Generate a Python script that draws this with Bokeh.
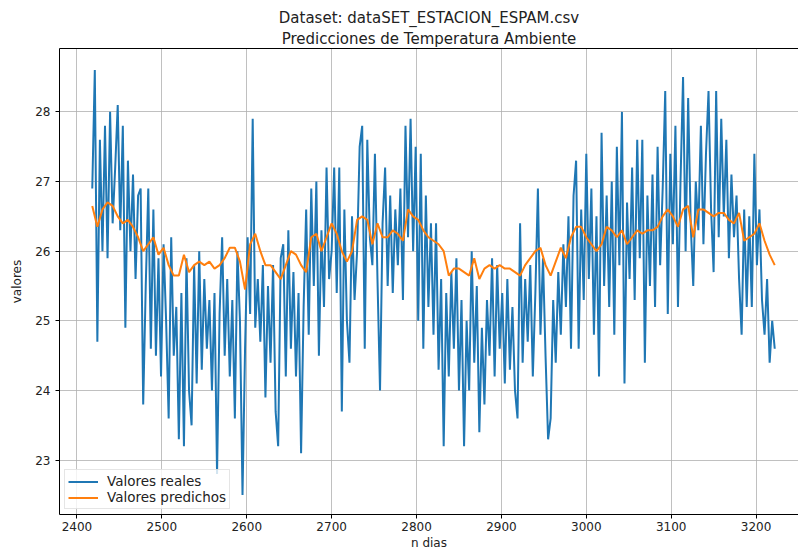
from bokeh.plotting import figure
from bokeh.models import Range1d, FixedTicker, Title, Legend, LegendItem, LinearAxis
from bokeh.embed import file_html
from bokeh.resources import INLINE

# ---- data ----
REAL_START = 2418
REAL_STEP = 3
valores_reales = [
    26.9, 28.6, 24.7, 27.6, 26.0, 27.8, 25.9, 28.0, 26.4, 27.2, 28.1,
    26.3, 27.8, 24.9, 27.3, 26.0, 27.1, 25.6, 26.8, 26.9, 23.8, 25.5, 26.9, 24.6, 26.6, 24.5, 25.9, 24.2,
    26.1, 25.0, 23.6, 26.2, 24.5, 25.2, 23.3, 25.4, 23.2, 25.9, 24.0, 23.5, 25.8, 24.1, 26.0, 24.3, 25.6,
    24.6, 25.3, 24.0, 25.4, 22.8, 25.1, 26.2, 24.5, 25.6, 24.2, 25.3, 23.6, 26.0, 25.0, 22.5, 24.6, 26.2,
    25.1, 27.9, 24.9, 25.6, 24.7, 25.8, 23.9, 25.5, 24.4, 25.8, 23.7, 23.2, 25.9, 26.1, 24.2, 26.3, 24.6,
    25.7, 24.2, 25.4, 23.1, 25.2, 26.6, 24.8, 26.9, 25.5, 27.0, 24.5, 26.3, 25.2, 27.2, 25.6, 26.0, 27.2,
    25.4, 27.2, 23.7, 26.6, 25.0, 24.4, 26.5, 25.3, 26.0, 27.5, 27.8, 24.6, 27.6, 26.2, 25.8, 27.4, 25.6,
    24.0, 26.4, 27.2, 25.5, 26.8, 25.4, 26.6, 25.8, 26.9, 25.3, 27.8, 26.2, 27.9, 26.0, 27.5, 25.0, 27.4,
    24.6, 26.8, 25.2, 26.4, 24.8, 26.4, 24.3, 25.6, 23.2, 25.4, 24.2, 25.7, 24.6, 25.9, 24.0, 25.3, 23.2,
    25.0, 24.0, 26.0, 24.4, 25.5, 23.4, 24.9, 23.8, 25.3, 24.5, 25.9, 24.2, 25.8, 24.6, 25.4, 24.1, 25.6,
    24.3, 25.2, 24.0, 23.6, 26.4, 24.4, 25.6, 24.7, 25.8, 24.2, 25.4, 26.9, 24.8, 25.9, 24.5, 23.3, 23.6,
    25.3, 24.4, 25.7, 24.8, 26.1, 25.2, 26.5, 24.6, 26.8, 27.3, 24.6, 26.6, 25.3, 27.4, 25.6, 26.9, 24.8,
    26.5, 24.2, 27.7, 25.5, 26.8, 25.2, 27.0, 24.8, 27.5, 25.8, 28.0, 24.1, 26.7, 25.6, 27.2, 25.3, 27.6,
    25.9, 27.6, 24.4, 26.8, 25.5, 27.1, 25.2, 27.5, 25.8, 26.9, 28.3, 25.1, 27.4, 26.1, 27.8, 25.2, 27.0,
    28.5, 26.0, 28.2, 26.4, 25.5, 27.0, 26.3, 27.8, 26.1, 27.4, 28.3, 26.6, 25.7, 28.3, 26.2, 27.9, 26.5,
    27.6, 25.9, 27.1, 26.2, 26.8, 25.6, 24.8, 26.6, 25.2, 26.5, 25.2, 27.4, 25.8, 26.6, 25.3, 24.8, 25.6,
    24.4, 25.0, 24.6,
]

PRED_START = 2418
PRED_STEP = 6
valores_predichos = [
    26.65, 26.35, 26.6, 26.7, 26.65, 26.5, 26.4, 26.45, 26.35, 26.2,
    26.0, 26.1, 26.2, 25.95, 26.05, 25.8, 25.65, 25.65, 25.95, 25.7,
    25.8, 25.85, 25.8, 25.85, 25.75, 25.8, 25.9, 26.05, 26.05, 25.85,
    25.45, 26.1, 26.25, 26.0, 25.8, 25.8, 25.7, 25.6, 25.8, 26.0,
    25.95, 25.8, 25.7, 26.2, 26.25, 26.0, 26.2, 26.4, 26.25, 26.0,
    25.85, 26.0, 26.45, 26.5, 26.45, 26.1, 26.4, 26.2, 26.2, 26.3,
    26.25, 26.15, 26.6, 26.5, 26.45, 26.3, 26.2, 26.15, 26.1, 26.0,
    25.65, 25.75, 25.75, 25.7, 25.65, 25.9, 25.6, 25.75, 25.8, 25.75,
    25.8, 25.75, 25.75, 25.7, 25.65, 25.8, 25.9, 26.0, 26.05, 25.8,
    25.65, 25.85, 26.05, 25.9, 26.2, 26.35, 26.35, 26.2, 26.1, 26.0,
    26.1, 26.35, 26.3, 26.2, 26.3, 26.1, 26.2, 26.3, 26.25, 26.3,
    26.3, 26.35, 26.5, 26.6, 26.5, 26.35, 26.6, 26.65, 26.2, 26.6,
    26.6, 26.55, 26.5, 26.55, 26.55, 26.45, 26.4, 26.55, 26.15, 26.2,
    26.25, 26.4, 26.15, 25.95, 25.8,
]

x_ticks = [2400, 2500, 2600, 2700, 2800, 2900, 3000, 3100, 3200]
y_ticks = [23, 24, 25, 26, 27, 28]

dias_reales = [REAL_START + i * REAL_STEP for i in range(len(valores_reales))]
dias_pred = [PRED_START + i * PRED_STEP for i in range(len(valores_predichos))]

FONT = "DejaVu Sans"
TXT = "#222222"

p = figure(width=798, height=552, output_backend="svg", toolbar_location=None,
           x_range=Range1d(2379.4, 3250), y_range=Range1d(22.22, 28.91),
           min_border_left=59, min_border_right=0, min_border_top=48, min_border_bottom=34)
p.title = None
p.outline_line_color = None

xb = p.below[0]
yl = p.left[0]

# top spine (closest to the frame)
top = LinearAxis(ticker=FixedTicker(ticks=[]), major_label_text_font_size="0px",
                 major_tick_line_color=None, minor_tick_line_color=None,
                 axis_line_color="black", major_label_standoff=0)
p.add_layout(top, "above")

p.add_layout(Title(text="Predicciones de Temperatura Ambiente", align="center",
                   text_font=FONT, text_font_size="15px", text_font_style="normal",
                   text_color=TXT, standoff=2), "above")
p.add_layout(Title(text="Dataset: dataSET_ESTACION_ESPAM.csv", align="center",
                   text_font=FONT, text_font_size="15px", text_font_style="normal",
                   text_color=TXT, standoff=0), "above")

r1 = p.line(dias_reales, valores_reales, line_color="#1f77b4", line_width=2)
r2 = p.line(dias_pred, valores_predichos, line_color="#ff7f0e", line_width=2)

for ax in (xb, yl):
    ax.axis_line_color = "black"
    ax.major_tick_out = 4
    ax.major_tick_in = 0
    ax.minor_tick_line_color = None
    ax.major_label_text_font = FONT
    ax.major_label_text_font_size = "12px"
    ax.major_label_text_color = TXT
    ax.axis_label_text_font = FONT
    ax.axis_label_text_font_size = "12px"
    ax.axis_label_text_font_style = "normal"
    ax.axis_label_text_color = TXT
xb.ticker = FixedTicker(ticks=x_ticks)
yl.ticker = FixedTicker(ticks=y_ticks)
xb.axis_label = "n dias"
yl.axis_label = "valores"
xb.axis_label_standoff = 2
xb.major_label_standoff = 3
yl.axis_label_standoff = 8

p.xgrid.grid_line_color = "#b0b0b0"
p.ygrid.grid_line_color = "#b0b0b0"
p.xgrid.grid_line_width = 0.8
p.ygrid.grid_line_width = 0.8
p.xgrid.ticker = FixedTicker(ticks=x_ticks)
p.ygrid.ticker = FixedTicker(ticks=y_ticks)

legend = Legend(items=[LegendItem(label="Valores reales", renderers=[r1]),
                       LegendItem(label="Valores predichos", renderers=[r2])],
                location="bottom_left")
legend.label_text_font = FONT
legend.label_text_font_size = "13.5px"
legend.label_text_color = TXT
legend.border_line_color = "#cccccc"
legend.background_fill_alpha = 0.8
legend.glyph_width = 30
legend.glyph_height = 13
legend.label_height = 13
legend.label_standoff = 9
legend.spacing = 0
legend.padding = 3
legend.margin = 5
p.add_layout(legend, "center")

open("out.html", "w").write(file_html(p, INLINE))
